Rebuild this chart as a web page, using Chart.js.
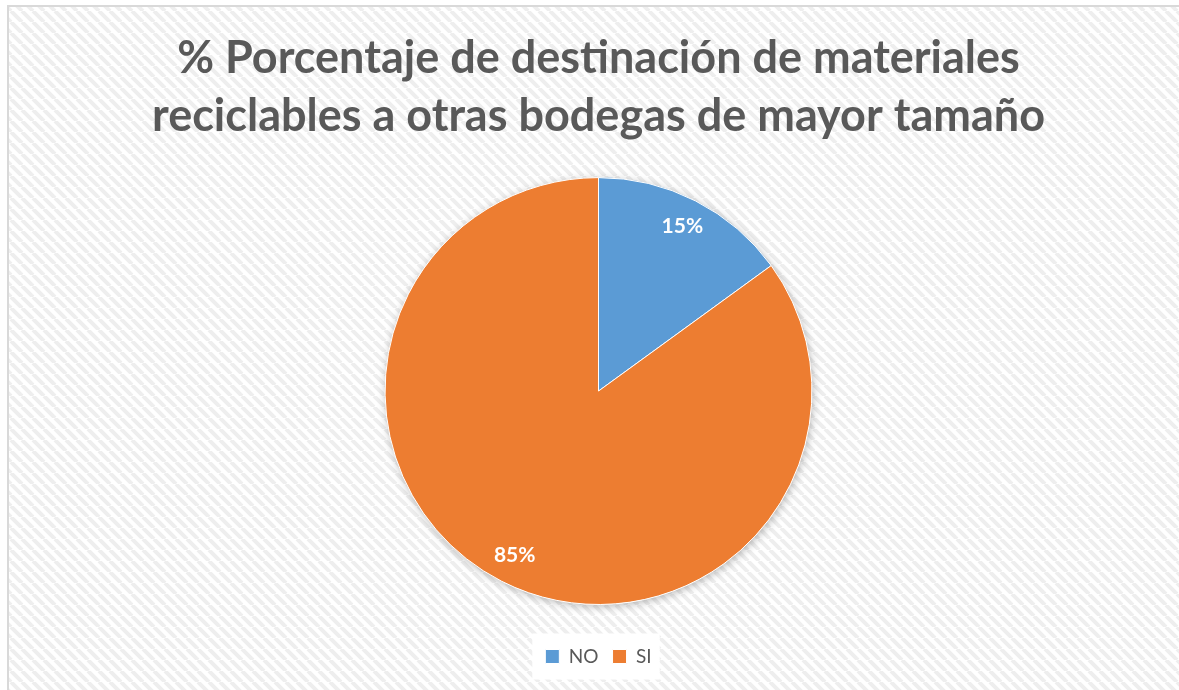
<!DOCTYPE html>
<html>
<head>
<meta charset="utf-8">
<script src="https://cdn.jsdelivr.net/npm/chart.js@4.4.1/dist/chart.umd.min.js"></script>
<style>
html,body{margin:0;padding:0;background:#ffffff;}
#wrap{position:relative;width:1179px;height:690px;}
</style>
</head>
<body>
<div id="wrap"><canvas id="c" width="1179" height="690"></canvas></div>
<script>
const titleLines = ['% Porcentaje de destinación de materiales', 'reciclables a otras bodegas de mayor tamaño'];
const categories = ['NO', 'SI'];
const percentValues = [15, 85];
const sliceColors = ['#5B9BD5', '#ED7D31'];

function makeStripePattern(ctx) {
  const s = 11;
  const off = document.createElement('canvas');
  off.width = s; off.height = s;
  const o = off.getContext('2d');
  o.fillStyle = '#ffffff';
  o.fillRect(0, 0, s, s);
  o.strokeStyle = '#eeeeee';
  o.lineWidth = 4;
  for (const d of [-s, 0, s]) {
    o.beginPath();
    o.moveTo(d, 0);
    o.lineTo(d + s, s);
    o.stroke();
  }
  return ctx.createPattern(off, 'repeat');
}

const backgroundPlugin = {
  id: 'bgStripes',
  beforeDraw(chart) {
    const ctx = chart.ctx;
    ctx.save();
    ctx.fillStyle = '#ffffff';
    ctx.fillRect(0, 0, chart.width, chart.height);
    ctx.fillStyle = makeStripePattern(ctx);
    ctx.fillRect(9, 7, chart.width - 9, chart.height - 7);
    ctx.strokeStyle = '#d9d9d9';
    ctx.lineWidth = 2;
    ctx.beginPath();
    ctx.moveTo(8, chart.height);
    ctx.lineTo(8, 6);
    ctx.lineTo(chart.width, 6);
    ctx.stroke();
    const lg = chart.legend;
    if (lg && lg.legendHitBoxes && lg.legendHitBoxes.length) {
      const boxes = lg.legendHitBoxes;
      const x0 = Math.min(...boxes.map(b => b.left)) - 13;
      const x1 = Math.max(...boxes.map(b => b.left + b.width)) + 8;
      const yc = boxes[0].top + boxes[0].height / 2;
      ctx.fillStyle = '#ffffff';
      ctx.fillRect(x0, yc - 23, x1 - x0, 46);
    }
    ctx.restore();
  }
};

const shadowPlugin = {
  id: 'pieShadow',
  beforeDatasetsDraw(chart) {
    const meta = chart.getDatasetMeta(0);
    if (!meta.data.length) return;
    const a = meta.data[0];
    const ctx = chart.ctx;
    ctx.save();
    ctx.shadowColor = 'rgba(0,0,0,0.28)';
    ctx.shadowBlur = 9;
    ctx.shadowOffsetX = 1;
    ctx.shadowOffsetY = 2;
    ctx.fillStyle = '#ffffff';
    ctx.beginPath();
    ctx.arc(a.x, a.y, a.outerRadius, 0, Math.PI * 2);
    ctx.fill();
    ctx.restore();
  }
};

const labelPlugin = {
  id: 'sliceLabels',
  afterDatasetsDraw(chart) {
    const meta = chart.getDatasetMeta(0);
    const ctx = chart.ctx;
    ctx.save();
    ctx.fillStyle = '#ffffff';
    ctx.font = 'bold 21px Lato';
    ctx.textAlign = 'center';
    ctx.textBaseline = 'middle';
    meta.data.forEach((arc, i) => {
      const mid = (arc.startAngle + arc.endAngle) / 2;
      const r = arc.outerRadius * 0.865;
      ctx.fillText(percentValues[i] + '%', arc.x + Math.cos(mid) * r, arc.y + Math.sin(mid) * r);
    });
    ctx.restore();
  }
};

new Chart(document.getElementById('c'), {
  type: 'pie',
  data: {
    labels: categories,
    datasets: [{
      data: percentValues,
      backgroundColor: sliceColors,
      borderColor: '#ffffff',
      borderWidth: 1
    }]
  },
  options: {
    responsive: false,
    animation: false,
    layout: { padding: { left: 18, right: 0, top: 0, bottom: 14 } },
    plugins: {
      title: {
        display: true,
        text: titleLines,
        color: '#595959',
        font: { family: 'Lato', size: 45, weight: 'bold', lineHeight: 1.29 },
        padding: { top: 29, bottom: 32 }
      },
      legend: {
        position: 'bottom',
        title: { display: true, text: ' ', font: { size: 1, lineHeight: 1 }, padding: { top: 27, bottom: 0 } },
        labels: {
          color: '#595959',
          font: { family: 'Lato', size: 19 },
          boxWidth: 14,
          boxHeight: 14,
          padding: 14
        }
      },
      tooltip: { enabled: false }
    }
  },
  plugins: [backgroundPlugin, shadowPlugin, labelPlugin]
});
</script>
</body>
</html>
